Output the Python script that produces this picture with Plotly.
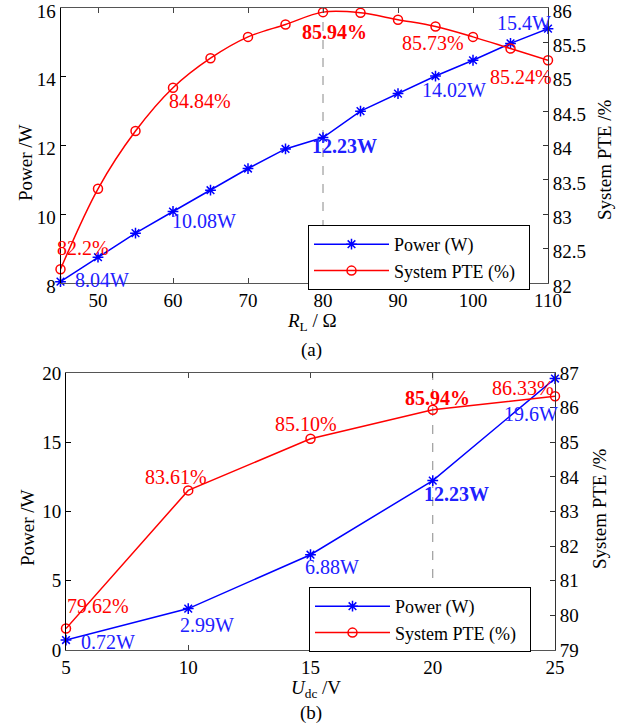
import plotly.graph_objects as go

# ---------------- data ----------------
RL = [45, 50, 55, 60, 65, 70, 75, 80, 85, 90, 95, 100, 105, 110]
P_a = [8.04, 8.75, 9.45, 10.08, 10.7, 11.33, 11.9, 12.23, 13.0, 13.51, 14.02, 14.48, 14.97, 15.4]
PTE_a = [82.2, 83.37, 84.21, 84.84, 85.27, 85.58, 85.76, 85.94, 85.93, 85.83, 85.73, 85.58, 85.41, 85.24]

Udc = [5, 10, 15, 20, 25]
P_b = [0.72, 2.99, 6.88, 12.23, 19.6]
PTE_b = [79.62, 83.61, 85.10, 85.94, 86.33]

BLUE = "#0000ff"
BLUE_T = "#2020ff"
RED = "#ff0000"
FONT = "Liberation Serif"

W, H = 632, 728

def px_x(p):
    return p / W

def px_y(p):
    return 1 - p / H

fig = go.Figure()

# top chart
fig.add_trace(go.Scatter(x=RL, y=P_a, xaxis="x", yaxis="y", name="Power (W)",
                         mode="lines+markers", legend="legend",
                         line=dict(color=BLUE, width=1.5),
                         marker=dict(symbol="asterisk-open", size=9, line=dict(color=BLUE, width=1.5)),
                         cliponaxis=False))
fig.add_trace(go.Scatter(x=RL, y=PTE_a, xaxis="x", yaxis="y2", name="System PTE (%)\u00a0\u00a0",
                         mode="lines+markers", legend="legend",
                         line=dict(color=RED, width=1.5, shape="spline"),
                         marker=dict(symbol="circle-open", size=9, line=dict(color=RED, width=1.5)),
                         cliponaxis=False))
# bottom chart
fig.add_trace(go.Scatter(x=Udc, y=P_b, xaxis="x2", yaxis="y3", name="Power (W)",
                         mode="lines+markers", legend="legend2",
                         line=dict(color=BLUE, width=1.5),
                         marker=dict(symbol="asterisk-open", size=9, line=dict(color=BLUE, width=1.5)),
                         cliponaxis=False))
fig.add_trace(go.Scatter(x=Udc, y=PTE_b, xaxis="x2", yaxis="y4", name="System PTE (%)\u00a0\u00a0",
                         mode="lines+markers", legend="legend2",
                         line=dict(color=RED, width=1.5),
                         marker=dict(symbol="circle-open", size=9, line=dict(color=RED, width=1.5)),
                         cliponaxis=False))

tickfont = dict(family=FONT, size=19, color="black")
base = dict(showgrid=False, zeroline=False, ticks="inside", ticklen=5, linewidth=1,
            showline=True, tickfont=tickfont, automargin=False, ticklabeloverflow="allow")
common_x = dict(tickcolor="#444", linecolor="#555", mirror="ticks", **base)
common_yl = dict(tickcolor="black", linecolor="black", **base)
common_yr = dict(tickcolor="#333", linecolor="#333", side="right", **base)

dom_xa = [px_x(60.5), px_x(548)]
dom_ya = [px_y(283), px_y(8)]
dom_xb = [px_x(66), px_x(555)]
dom_yb = [px_y(650), px_y(373)]

legend_common = dict(xanchor="left", yanchor="top",
                     bordercolor="black", borderwidth=1, bgcolor="white",
                     font=dict(family=FONT, size=18, color="black"), tracegroupgap=0,
                     itemwidth=75)

fig.update_layout(
    width=W, height=H, margin=dict(l=0, r=0, t=0, b=0, autoexpand=False),
    paper_bgcolor="white", plot_bgcolor="white",
    font=dict(family=FONT, size=19, color="black"),
    xaxis=dict(domain=dom_xa, range=[45, 110], tickvals=[50, 60, 70, 80, 90, 100, 110],
               anchor="y", **common_x),
    yaxis=dict(domain=dom_ya, range=[8, 16], dtick=2, anchor="x", ticklabelshift=3, **common_yl),
    yaxis2=dict(domain=dom_ya, range=[82, 86], dtick=0.5, overlaying="y", anchor="x",
                ticklabelshift=3, **common_yr),
    xaxis2=dict(domain=dom_xb, range=[5, 25], tickvals=[5, 10, 15, 20, 25], anchor="y3", **common_x),
    yaxis3=dict(domain=dom_yb, range=[0, 20], dtick=5, anchor="x2", **common_yl),
    yaxis4=dict(domain=dom_yb, range=[79, 87], dtick=1, overlaying="y3", anchor="x2", **common_yr),
    legend=dict(x=px_x(308), y=px_y(225), **legend_common),
    legend2=dict(x=px_x(309), y=px_y(587), **legend_common),
    showlegend=True,
)

# dashed reference lines
fig.add_shape(type="line", xref="x", yref="y domain", x0=80, x1=80, y0=0, y1=1,
              line=dict(color="#888", width=1, dash="dash"), layer="below")
fig.add_shape(type="line", xref="x2", yref="y3 domain", x0=20, x1=20, y0=0, y1=1,
              line=dict(color="#888", width=1, dash="dash"), layer="below")

def lab(text, x, y, xr, yr, dx, dy, color, bold=False):
    t = f"<b>{text}</b>" if bold else text
    fig.add_annotation(text=t, x=x, y=y, xref=xr, yref=yr, xshift=dx, yshift=dy,
                       xanchor="center", yanchor="middle",
                       showarrow=False, font=dict(family=FONT, size=20, color=color))

# top chart labels
lab("82.2%", RL[0], PTE_a[0], "x", "y2", 22, 21, RED)
lab("8.04W", RL[0], P_a[0], "x", "y", 41, 2, BLUE_T)
lab("10.08W", RL[3], P_a[3], "x", "y", 31, -10, BLUE_T)
lab("84.84%", RL[3], PTE_a[3], "x", "y2", 27, -13, RED)
lab("85.94%", RL[7], PTE_a[7], "x", "y2", 11, -20, RED, bold=True)
lab("12.23W", RL[7], P_a[7], "x", "y", 21, -8, BLUE_T, bold=True)
lab("85.73%", RL[10], PTE_a[10], "x", "y2", -3, -16, RED)
lab("14.02W", RL[10], P_a[10], "x", "y", 18, -14, BLUE_T)
lab("85.24%", RL[13], PTE_a[13], "x", "y2", -27, -17, RED)
lab("15.4W", RL[13], P_a[13], "x", "y", -24, 6, BLUE_T)

# bottom chart labels
lab("79.62%", Udc[0], PTE_b[0], "x2", "y4", 32, 23, RED)
lab("0.72W", Udc[0], P_b[0], "x2", "y3", 42, -2, BLUE_T)
lab("2.99W", Udc[1], P_b[1], "x2", "y3", 19, -16, BLUE_T)
lab("83.61%", Udc[1], PTE_b[1], "x2", "y4", -12, 13, RED)
lab("6.88W", Udc[2], P_b[2], "x2", "y3", 21, -12, BLUE_T)
lab("85.10%", Udc[2], PTE_b[2], "x2", "y4", -5, 15, RED)
lab("85.94%", Udc[3], PTE_b[3], "x2", "y4", 5, 12, RED, bold=True)
lab("12.23W", Udc[3], P_b[3], "x2", "y3", 24, -13, BLUE_T, bold=True)
lab("86.33%", Udc[4], PTE_b[4], "x2", "y4", -32, 8, RED)
lab("19.6W", Udc[4], P_b[4], "x2", "y3", -24, -35, BLUE_T)

def title(text, xp, yp, angle=0):
    fig.add_annotation(text=text, x=px_x(xp), y=px_y(yp), xref="paper", yref="paper",
                       xanchor="center", yanchor="middle",
                       showarrow=False, textangle=angle,
                       font=dict(family=FONT, size=19, color="black"))

title("Power /W", 25, 163, -90)
title("System PTE /%", 604, 160, -90)
title("<i>R</i><sub>L</sub> / Ω", 312, 322)
title("(a)", 311, 350)
title("Power /W", 27, 528, -90)
title("System PTE /%", 600, 509, -90)
title("<i>U</i><sub>dc</sub> /V", 316, 689)
title("(b)", 311, 713)

fig.write_html("out.html")
